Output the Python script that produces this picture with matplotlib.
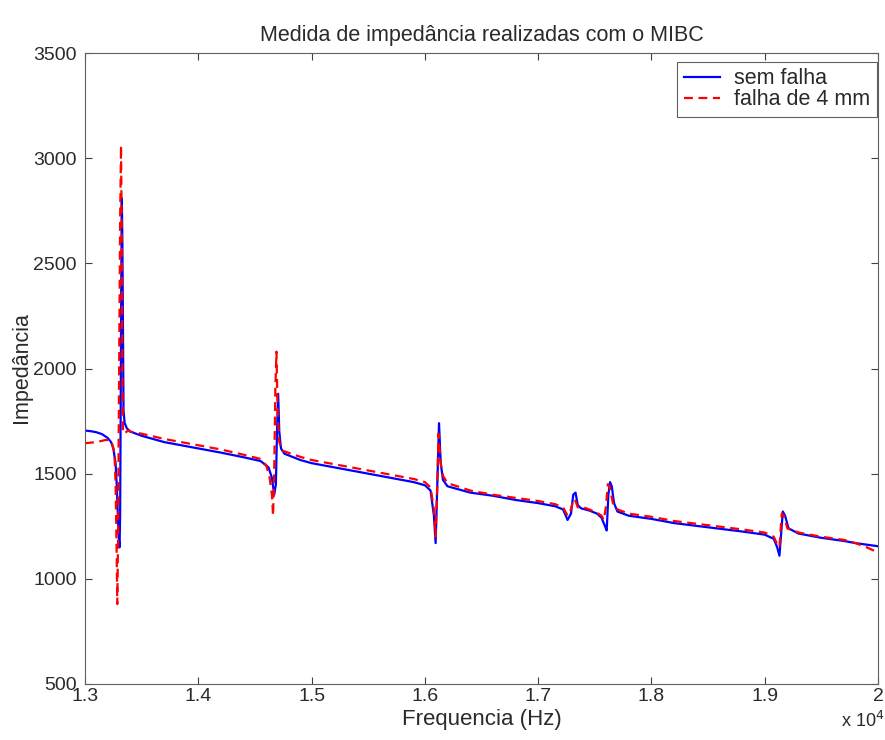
import matplotlib
matplotlib.use("Agg")
import matplotlib.pyplot as plt

plt.rcParams['font.family'] = ['Liberation Sans', 'DejaVu Sans']

freq_sem = [13000, 13050, 13100, 13150, 13200, 13230, 13250, 13270, 13280, 13290, 13300, 13305,
            13310, 13315, 13320, 13325, 13330, 13335, 13340, 13350, 13370, 13400, 13500, 13700,
            14000, 14200, 14400, 14550, 14620, 14650, 14670, 14685, 14695, 14705, 14715, 14730,
            14760, 14900, 15000, 15300, 15600, 15900, 16000, 16050, 16080, 16095, 16110, 16125,
            16140, 16160, 16200, 16400, 16600, 16800, 17000, 17150, 17220, 17260, 17290, 17310,
            17330, 17350, 17380, 17450, 17520, 17560, 17590, 17605, 17620, 17635, 17650, 17670,
            17700, 17800, 18000, 18200, 18500, 18800, 19000, 19080, 19110, 19130, 19160, 19180,
            19210, 19300, 19500, 19700, 19800, 20000]
imp_sem = [1705, 1702, 1697, 1688, 1670, 1650, 1620, 1550, 1450, 1300, 1180, 1150,
           1300, 1800, 2400, 2810, 2600, 2200, 1800, 1740, 1715, 1700, 1680, 1650,
           1620, 1600, 1578, 1560, 1530, 1480, 1400, 1450, 1700, 1880, 1700, 1620,
           1595, 1565, 1550, 1520, 1490, 1460, 1445, 1420, 1300, 1170, 1450, 1740,
           1550, 1470, 1440, 1410, 1395, 1375, 1360, 1345, 1330, 1280, 1310, 1400,
           1410, 1350, 1335, 1325, 1310, 1290, 1250, 1230, 1400, 1460, 1440, 1360,
           1320, 1300, 1285, 1265, 1245, 1225, 1210, 1190, 1150, 1110, 1320, 1300,
           1240, 1215, 1195, 1180, 1170, 1155]

freq_falha = [13000, 13100, 13180, 13220, 13240, 13260, 13270, 13280, 13285, 13292, 13300, 13310,
              13318, 13325, 13330, 13335, 13345, 13380, 13400, 13500, 13700, 14000, 14200, 14400,
              14550, 14600, 14630, 14650, 14660, 14670, 14680, 14690, 14700, 14715, 14740, 14900,
              15000, 15300, 15600, 15900, 16000, 16050, 16080, 16095, 16110, 16120, 16140, 16160,
              16200, 16400, 16600, 16800, 17000, 17150, 17220, 17260, 17290, 17310, 17330, 17350,
              17400, 17500, 17560, 17580, 17600, 17615, 17630, 17660, 17700, 17800, 18000, 18200,
              18500, 18800, 19000, 19080, 19110, 19130, 19150, 19170, 19200, 19300, 19500, 19700,
              19800, 19900, 20000]
imp_falha = [1645, 1650, 1660, 1660, 1640, 1600, 1450, 1100, 880, 1200, 1900, 2700,
             3060, 2600, 2000, 1700, 1690, 1705, 1700, 1690, 1665, 1635, 1615, 1590,
             1570, 1540, 1480, 1400, 1300, 1500, 1900, 2080, 1800, 1650, 1610, 1580,
             1565, 1535, 1505, 1475, 1460, 1435, 1330, 1200, 1450, 1690, 1550, 1490,
             1455, 1420, 1400, 1385, 1370, 1355, 1340, 1300, 1330, 1380, 1370, 1340,
             1340, 1320, 1300, 1280, 1350, 1450, 1440, 1360, 1330, 1310, 1295, 1275,
             1255, 1235, 1220, 1200, 1165, 1150, 1310, 1300, 1240, 1220, 1200, 1185,
             1170, 1150, 1125]

xticks = [13000, 14000, 15000, 16000, 17000, 18000, 19000, 20000]
xtick_labels = ['1.3', '1.4', '1.5', '1.6', '1.7', '1.8', '1.9', '2']
yticks = [500, 1000, 1500, 2000, 2500, 3000, 3500]

tc = '#2a2a2a'

fig = plt.figure(figsize=(8.85, 7.4), dpi=100)
ax = fig.add_axes([85/885, 1 - 684/740, 793/885, (684-53)/740])

ax.plot(freq_sem, imp_sem, color='#0000ff', lw=1.6, label='sem falha')
ax.plot(freq_falha, imp_falha, color='#ff0000', lw=1.6, ls=(0, (4, 2.5)), label='falha de 4 mm')

ax.set_xlim(13000, 20000)
ax.set_ylim(500, 3500)
ax.set_xticks(xticks)
ax.set_xticklabels(xtick_labels, fontsize=14, color=tc)
ax.set_yticks(yticks)
ax.set_yticklabels([str(v) for v in yticks], fontsize=14, color=tc)
ax.tick_params(direction='in', top=True, right=True, length=5, color='#404040')
ax.tick_params(axis='x', pad=3)
ax.tick_params(axis='y', pad=6)
for s in ax.spines.values():
    s.set_color('#606060')
    s.set_linewidth(0.8)

ax.set_title('Medida de impedância realizadas com o MIBC', fontsize=15.5, pad=9, color=tc)
ax.set_xlabel('Frequencia (Hz)', fontsize=16, labelpad=3, color=tc)
fig.text(22/885, 1 - 368/740, 'Impedância', fontsize=15.5, rotation=90,
         ha='center', va='center', color=tc)
fig.text(884/885, 1 - 721/740, r'x 10$^4$', fontsize=13, va='center', ha='right', color=tc)

leg = ax.legend(loc='upper right', bbox_to_anchor=(877/885, 1 - 62/740),
                bbox_transform=fig.transFigure, borderaxespad=0,
                prop={'size': 15.5}, fancybox=False, edgecolor='#606060',
                framealpha=1, handlelength=1.7, labelspacing=0.0,
                borderpad=0.3, handletextpad=0.65)
leg.get_frame().set_linewidth(0.8)
for t in leg.get_texts():
    t.set_color(tc)

fig.savefig('out.png', dpi=100)
